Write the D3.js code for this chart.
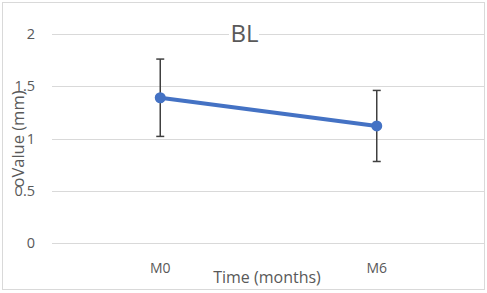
<!DOCTYPE html>
<html>
<head>
<meta charset="utf-8">
<script src="https://cdn.jsdelivr.net/npm/d3@7"></script>
<style>
  body { margin: 0; background: #fff; }
  text { font-family: "Open Sans", Lato, sans-serif; fill: #595959; }
</style>
</head>
<body>
<div id="chart"></div>
<script>
// chart data
const categories = ['M0', 'M6']
const means = [1.39, 1.12]
const errors = [0.37, 0.34]
const yTicks = [0, 0.5, 1, 1.5, 2]

const width = 487
const height = 293
const plot = { left: 52, right: 485, top: 34, bottom: 243 }

const svg = d3.select('#chart')
  .append('svg')
  .attr('width', width)
  .attr('height', height)

svg.append('rect')
  .attr('x', 2.5).attr('y', 2.5)
  .attr('width', 482).attr('height', 287)
  .attr('fill', '#fff')
  .attr('stroke', '#d9d9d9')

const xScale = d3.scaleBand()
  .domain(categories)
  .range([plot.left, plot.right])

const yScale = d3.scaleLinear()
  .domain([0, 2])
  .range([plot.bottom, plot.top])

// gridlines
svg.selectAll('.grid')
  .data(yTicks)
  .enter()
  .append('line')
  .attr('x1', plot.left)
  .attr('x2', plot.right - 1)
  .attr('y1', d => Math.round(yScale(d)) + 0.5)
  .attr('y2', d => Math.round(yScale(d)) + 0.5)
  .attr('stroke', '#d9d9d9')
  .attr('stroke-width', 1.2)

// y tick labels
svg.selectAll('.ytick')
  .data(yTicks)
  .enter()
  .append('text')
  .attr('x', 35)
  .attr('y', d => yScale(d) + 5)
  .attr('text-anchor', 'end')
  .attr('font-size', 14.5)
  .text(d => d)

// x tick labels
svg.selectAll('.xtick')
  .data(categories)
  .enter()
  .append('text')
  .attr('x', d => xScale(d) + xScale.bandwidth() / 2)
  .attr('y', 273)
  .attr('text-anchor', 'middle')
  .attr('font-size', 14)
  .text(d => d)

// axis titles
svg.append('text')
  .attr('x', 267)
  .attr('y', 283)
  .attr('text-anchor', 'middle')
  .attr('font-size', 16)
  .text('Time (months)')

svg.append('text')
  .attr('transform', 'translate(24,139) rotate(-90)')
  .attr('text-anchor', 'middle')
  .attr('font-size', 16.5)
  .text('oValue (mm)')

// chart title with white backing
svg.append('rect')
  .attr('x', 229).attr('y', 22)
  .attr('width', 30).attr('height', 24)
  .attr('fill', '#fff')

svg.append('text')
  .attr('x', 244.5)
  .attr('y', 42)
  .attr('text-anchor', 'middle')
  .attr('font-size', 24)
  .text('BL')

const pts = categories.map((c, i) => ({ cat: c, v: means[i], e: errors[i] }))
const cx = d => xScale(d.cat) + xScale.bandwidth() / 2

// error bars
const eb = svg.selectAll('.err')
  .data(pts)
  .enter()
  .append('g')

eb.append('line')
  .attr('x1', cx).attr('x2', cx)
  .attr('y1', d => yScale(d.v + d.e))
  .attr('y2', d => yScale(d.v - d.e))
  .attr('stroke', '#404040')
  .attr('stroke-width', 1.5)

eb.append('line')
  .attr('x1', d => cx(d) - 4).attr('x2', d => cx(d) + 4)
  .attr('y1', d => yScale(d.v + d.e))
  .attr('y2', d => yScale(d.v + d.e))
  .attr('stroke', '#404040')
  .attr('stroke-width', 1.5)

eb.append('line')
  .attr('x1', d => cx(d) - 4).attr('x2', d => cx(d) + 4)
  .attr('y1', d => yScale(d.v - d.e))
  .attr('y2', d => yScale(d.v - d.e))
  .attr('stroke', '#404040')
  .attr('stroke-width', 1.5)

// line + markers
svg.append('path')
  .datum(pts)
  .attr('d', d3.line().x(cx).y(d => yScale(d.v)))
  .attr('fill', 'none')
  .attr('stroke', '#4472c4')
  .attr('stroke-width', 4)

svg.selectAll('.dot')
  .data(pts)
  .enter()
  .append('circle')
  .attr('cx', cx)
  .attr('cy', d => yScale(d.v))
  .attr('r', 5.5)
  .attr('fill', '#4472c4')
</script>
</body>
</html>
